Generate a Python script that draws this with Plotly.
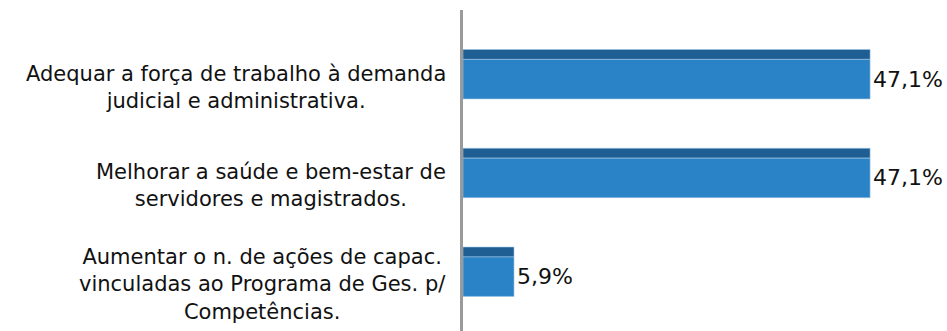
import plotly.graph_objects as go

# Survey results: share of respondents per priority
categories = [
    "Adequar a força de trabalho à demanda<br>judicial e administrativa.",
    "Melhorar a saúde e bem-estar de<br>servidores e magistrados.",
    "Aumentar o n. de ações de capac.<br>vinculadas ao Programa de Ges. p/<br>Competências.",
]
values = [47.1, 47.1, 5.9]
value_labels = ["47,1%", "47,1%", "5,9%"]

positions = list(range(len(categories)))

body_color = "#2a83c6"
top_color = "#1f5e92"
edge_color = "#9cc4e4"
font_family = "DejaVu Sans, sans-serif"

fig = go.Figure()

# dark band along the top of each bar
fig.add_trace(go.Bar(
    y=positions, x=values, orientation="h",
    width=0.1, offset=-0.25,
    marker=dict(color=top_color, line=dict(color=edge_color, width=0.6)),
    hoverinfo="skip", showlegend=False,
))

# main bar body carrying the value label
fig.add_trace(go.Bar(
    y=positions, x=values, orientation="h",
    width=0.4, offset=-0.15,
    marker=dict(color=body_color, line=dict(color=edge_color, width=0.6)),
    text=value_labels, textposition="outside",
    textfont=dict(family=font_family, size=22, color="#111111"),
    cliponaxis=False, showlegend=False,
))

# centered multi-line category labels to the left of the axis
for pos, label in zip(positions, categories):
    fig.add_annotation(
        x=0, xref="paper", y=pos, yref="y",
        text=label, showarrow=False,
        xanchor="right", yanchor="middle", align="center",
        xshift=-15, yshift=-13,
        font=dict(family=font_family, size=21, color="#111111"),
    )

fig.update_layout(
    width=947, height=331,
    margin=dict(l=463, r=0, t=10, b=0),
    paper_bgcolor="white", plot_bgcolor="white",
    barmode="overlay",
    xaxis=dict(range=[0, 56], visible=False, fixedrange=True),
    yaxis=dict(
        range=[2.6, -0.65],
        showticklabels=False, showgrid=False, zeroline=False,
        showline=True, linecolor="#9a9a9a", linewidth=2.5,
        ticks="",
    ),
)

fig.write_html("out.html")
